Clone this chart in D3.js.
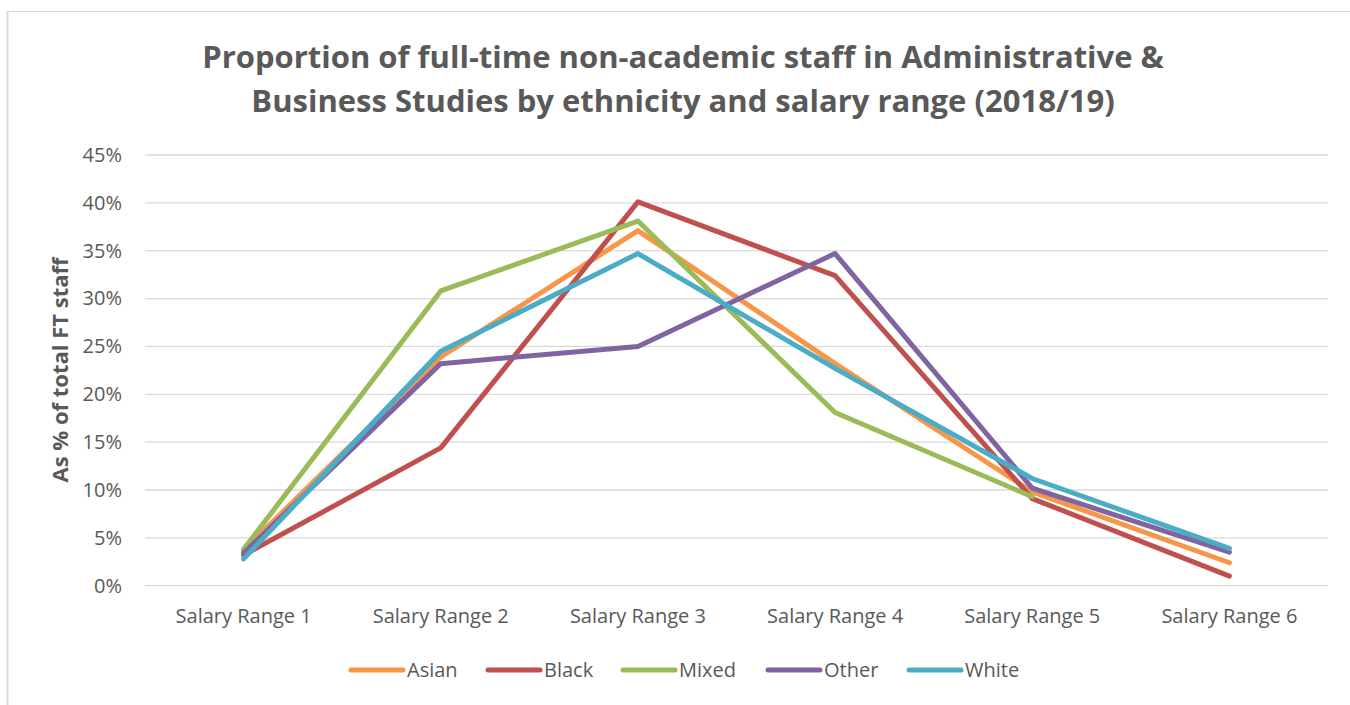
<!DOCTYPE html>
<html>
<head>
<meta charset="utf-8">
<script src="https://cdn.jsdelivr.net/npm/d3@7"></script>
<style>
  html, body { margin: 0; padding: 0; background: #fff; }
  svg { display: block; }
  text { font-family: "Open Sans", "Noto Sans", sans-serif; fill: #595959; }
</style>
</head>
<body>
<svg id="chart" width="1350" height="705"></svg>
<script>
const categories = ["Salary Range 1", "Salary Range 2", "Salary Range 3", "Salary Range 4", "Salary Range 5", "Salary Range 6"];
const seriesNames = ["Asian", "Black", "Mixed", "Other", "White"];
const asian = [3.7, 23.9, 37.1, 23.2, 9.8, 2.4];
const black = [3.2, 14.4, 40.1, 32.4, 9.1, 1.0];
const mixed = [3.8, 30.8, 38.1, 18.1, 9.3, null];
const other = [3.4, 23.2, 25.0, 34.7, 10.2, 3.5];
const white = [2.8, 24.5, 34.7, 22.7, 11.2, 3.9];
const colors = ["#F79646", "#C0504D", "#9BBB59", "#8064A2", "#4BACC6"];
const yTicks = [0, 5, 10, 15, 20, 25, 30, 35, 40, 45];
const titleLines = ["Proportion of full-time non-academic staff in Administrative &", "Business Studies by ethnicity and salary range (2018/19)"];
const yLabel = "As % of total FT staff";

const seriesValues = [asian, black, mixed, other, white];

const svg = d3.select("#chart");

// outer chart border
svg.append("line").attr("x1", 7.5).attr("x2", 1350).attr("y1", 11.5).attr("y2", 11.5)
  .attr("stroke", "#d9d9d9").attr("stroke-width", 1);
svg.append("line").attr("x1", 7.5).attr("x2", 7.5).attr("y1", 11).attr("y2", 705)
  .attr("stroke", "#d9d9d9").attr("stroke-width", 2);

const plotLeft = 145, plotRight = 1328, plotTop = 155, plotBottom = 585.7;

const x = d3.scaleBand().domain(categories).range([plotLeft, plotRight]);
const y = d3.scaleLinear().domain([0, 45]).range([plotBottom, plotTop]);

// gridlines
svg.append("g").selectAll("line").data(yTicks).join("line")
  .attr("x1", plotLeft).attr("x2", plotRight)
  .attr("y1", d => y(d)).attr("y2", d => y(d))
  .attr("stroke", "#d9d9d9").attr("stroke-width", 1.3);

// y axis
const yAxis = svg.append("g").attr("transform", `translate(${plotLeft},0)`)
  .call(d3.axisLeft(y).tickValues(yTicks).tickFormat(d => d + "%").tickSize(0).tickPadding(23));
yAxis.select(".domain").remove();
yAxis.selectAll("text").style("font-size", "20px").attr("fill", "#595959")
  .style("font-family", "'Open Sans', sans-serif");

// x axis
const xAxis = svg.append("g").attr("transform", `translate(0,${plotBottom})`)
  .call(d3.axisBottom(x).tickSize(0).tickPadding(23));
xAxis.select(".domain").remove();
xAxis.selectAll("text").style("font-size", "20px").attr("fill", "#595959")
  .style("font-family", "'Open Sans', sans-serif");

// lines
const line = d3.line()
  .defined(d => d.v !== null)
  .x(d => x(d.c) + x.bandwidth() / 2)
  .y(d => y(d.v));

seriesNames.forEach((name, i) => {
  const data = categories.map((c, j) => ({ c, v: seriesValues[i][j] }));
  svg.append("path").datum(data)
    .attr("fill", "none")
    .attr("stroke", colors[i])
    .attr("stroke-width", 5)
    .attr("stroke-linejoin", "round")
    .attr("stroke-linecap", "round")
    .attr("d", line);
});

// title
svg.append("text").attr("x", 683).attr("text-anchor", "middle")
  .style("font-size", "31px").style("font-weight", "bold")
  .selectAll("tspan").data(titleLines).join("tspan")
  .attr("x", 683).attr("y", (d, i) => 68 + i * 44).text(d => d);

// y label
svg.append("text")
  .attr("transform", "translate(68,370) rotate(-90)")
  .attr("text-anchor", "middle")
  .style("font-size", "22px").style("font-weight", "bold")
  .text(yLabel);

// legend
const legendX = [349, 486, 621, 766, 907];
const lg = svg.append("g");
seriesNames.forEach((name, i) => {
  const g = lg.append("g").attr("transform", `translate(${legendX[i]},670)`);
  g.append("line").attr("x1", 2).attr("x2", 54).attr("y1", 0).attr("y2", 0)
    .attr("stroke", colors[i]).attr("stroke-width", 5).attr("stroke-linecap", "round");
  g.append("text").attr("x", 58).attr("y", 0).attr("dy", "0.35em")
    .style("font-size", "20px").text(name);
});
</script>
</body>
</html>
